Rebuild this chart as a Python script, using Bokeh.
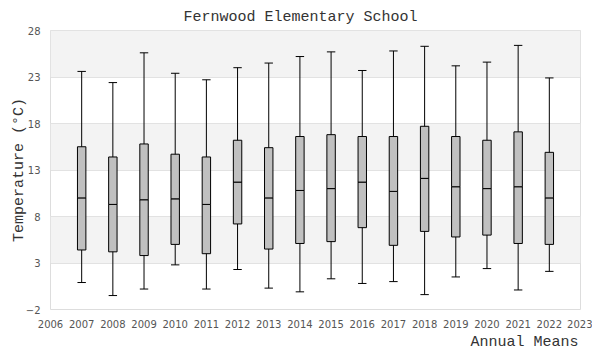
import numpy as np
from bokeh.plotting import figure
from bokeh.models import FixedTicker, Title
from bokeh.embed import file_html
from bokeh.resources import INLINE

# ---- data ----
years = [2007, 2008, 2009, 2010, 2011, 2012, 2013, 2014, 2015, 2016, 2017, 2018, 2019, 2020, 2021, 2022]
whisker_high = [23.6, 22.4, 25.6, 23.4, 22.7, 24.0, 24.5, 25.2, 25.7, 23.7, 25.8, 26.3, 24.2, 24.6, 26.4, 22.9]
q3 = [15.5, 14.4, 15.8, 14.7, 14.4, 16.2, 15.4, 16.6, 16.8, 16.6, 16.6, 17.7, 16.6, 16.2, 17.1, 14.9]
median = [10.0, 9.3, 9.8, 9.9, 9.3, 11.7, 10.0, 10.8, 11.0, 11.7, 10.7, 12.1, 11.2, 11.0, 11.2, 10.0]
q1 = [4.4, 4.2, 3.8, 5.0, 4.0, 7.2, 4.5, 5.1, 5.3, 6.8, 4.9, 6.4, 5.8, 6.0, 5.1, 5.0]
whisker_low = [0.9, -0.5, 0.2, 2.8, 0.2, 2.3, 0.3, -0.1, 1.3, 0.8, 1.0, -0.4, 1.5, 2.4, 0.1, 2.1]

x_ticks = list(range(2006, 2024))
y_ticks = [-2, 3, 8, 13, 18, 23, 28]
x_min, x_max = 2006, 2023
y_min, y_max = -2, 28

title_text = "Fernwood Elementary School"
x_label = "Annual Means"
y_label = "Temperature (°C)"

# ---- style ----
MONO = "Liberation Mono"
TXT = "#333333"
BOX_W = 0.27

p = figure(width=592, height=352, x_range=(x_min, x_max), y_range=(y_min, y_max),
           output_backend="svg", toolbar_location=None,
           min_border_left=50, min_border_right=12, min_border_top=30, min_border_bottom=42)

p.background_fill_color = "white"
p.border_fill_color = "white"
p.outline_line_color = "#dddddd"

# title
p.title.text = title_text
p.title.align = "left"
p.title.offset = 133
p.title.standoff = 10
p.title.text_font = MONO
p.title.text_font_size = "15px"
p.title.text_font_style = "normal"
p.title.text_color = TXT

# grid
p.xgrid.visible = False
p.ygrid.ticker = FixedTicker(ticks=y_ticks)
p.ygrid.grid_line_color = "#e2e2e2"
p.ygrid.band_fill_color = "#f3f3f3"
p.ygrid.band_fill_alpha = 1.0

# axes
for ax in (p.xaxis[0], p.yaxis[0]):
    ax.axis_line_color = None
    ax.major_tick_line_color = None
    ax.minor_tick_line_color = None
    ax.major_tick_out = 0
    ax.major_tick_in = 0
    ax.major_label_text_font = "DejaVu Sans"
    ax.major_label_text_font_size = "10px"
    ax.major_label_text_color = "#555555"

p.xaxis.ticker = FixedTicker(ticks=x_ticks)
p.xaxis.major_label_standoff = 10
p.yaxis.ticker = FixedTicker(ticks=y_ticks)
p.yaxis.major_label_standoff = 10
p.yaxis.axis_label = y_label
p.yaxis.axis_label_text_font = MONO
p.yaxis.axis_label_text_font_size = "15px"
p.yaxis.axis_label_text_font_style = "normal"
p.yaxis.axis_label_text_color = TXT
p.yaxis.axis_label_standoff = -5

p.add_layout(Title(text=x_label, align="right", offset=2, text_font=MONO,
                   text_font_size="15px", text_font_style="normal",
                   text_color=TXT, standoff=3), "below")

# ---- boxes ----
xs = np.array(years, dtype=float)
p.segment(x0=xs, y0=whisker_low, x1=xs, y1=whisker_high, line_color="black", line_width=1)
p.segment(x0=xs - BOX_W / 2, y0=whisker_high, x1=xs + BOX_W / 2, y1=whisker_high, line_color="black", line_width=1)
p.segment(x0=xs - BOX_W / 2, y0=whisker_low, x1=xs + BOX_W / 2, y1=whisker_low, line_color="black", line_width=1)
p.vbar(x=xs, width=BOX_W, bottom=q1, top=median, fill_color="#c0c0c0", line_color="black", line_width=1)
p.vbar(x=xs, width=BOX_W, bottom=median, top=q3, fill_color="#c0c0c0", line_color="black", line_width=1)

open("out.html", "w").write(file_html(p, INLINE))
